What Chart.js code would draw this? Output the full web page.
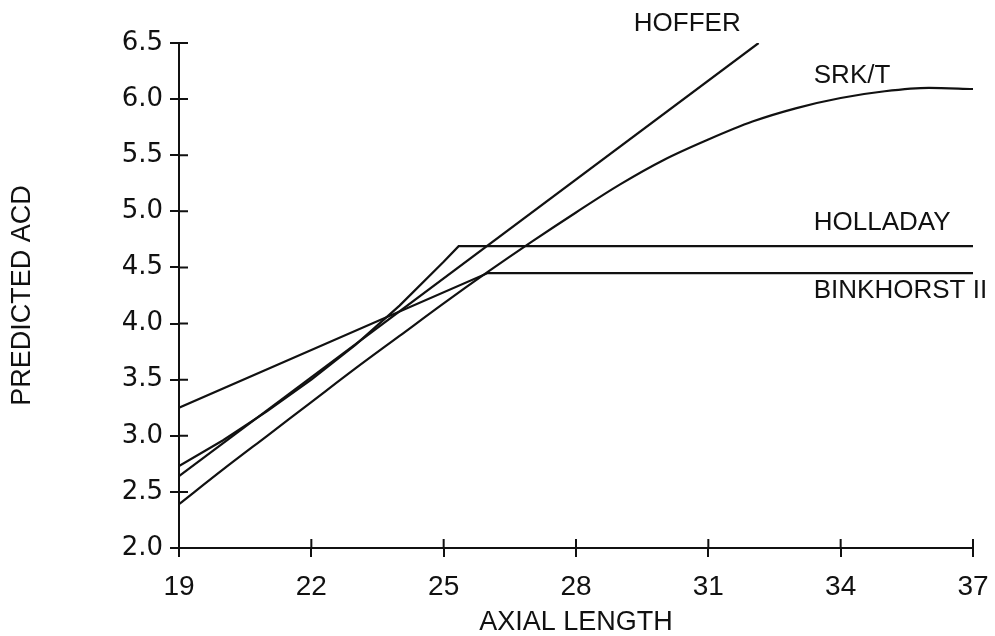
<!DOCTYPE html>
<html>
<head>
<meta charset="utf-8">
<script src="https://cdn.jsdelivr.net/npm/chart.js@4.4.1/dist/chart.umd.min.js"></script>
<style>
  html, body { margin: 0; padding: 0; background: #fff; }
  #wrap { width: 995px; height: 636px; }
</style>
</head>
<body>
<div id="wrap"><canvas id="acd-chart"></canvas></div>
<script>
// ── DATA ─────────────────────────────────────────────────────
const xTicks = [19, 22, 25, 28, 31, 34, 37];
const yTicks = [2.0, 2.5, 3.0, 3.5, 4.0, 4.5, 5.0, 5.5, 6.0, 6.5];

const hofferAL  = [19, 32.14];
const hofferACD = [2.64, 6.5];

const srktAL  = [19, 20, 21, 22, 23, 24, 25, 26, 27, 28, 29, 30, 31, 32, 33, 34, 35, 36, 37];
const srktACD = [2.39, 2.70, 3.00, 3.30, 3.60, 3.89, 4.18, 4.46, 4.73, 4.99, 5.24, 5.46, 5.64, 5.80, 5.92, 6.01, 6.07, 6.10, 6.09];

const holladayAL  = [19, 20, 21, 22, 23, 24, 25, 25.34, 37];
const holladayACD = [2.73, 2.96, 3.22, 3.50, 3.81, 4.16, 4.55, 4.69, 4.69];

const binkhorstAL  = [19, 26, 37];
const binkhorstACD = [3.25, 4.45, 4.45];

const seriesNames = ['HOFFER', 'SRK/T', 'HOLLADAY', 'BINKHORST II'];

// ── HELPERS ──────────────────────────────────────────────────
const pts = (xs, ys) => xs.map((x, i) => ({ x, y: ys[i] }));
const FONT = "'Liberation Sans', Arial, sans-serif";
const WIDE = "'DejaVu Sans', " + FONT;

// where each curve name sits, in axis units (left edge, middle of text)
const nameAnchors = [
  { x: 29.31, y: 6.67 },
  { x: 33.39, y: 6.21 },
  { x: 33.39, y: 4.90 },
  { x: 33.39, y: 4.29 },
];

// ticks that cross the axis line (Chart.js only draws the outer half)
const crossTicks = {
  id: 'crossTicks',
  afterDraw(chart) {
    const { ctx, chartArea, scales: { x, y } } = chart;
    ctx.save();
    ctx.strokeStyle = '#111';
    ctx.lineWidth = 2;
    ctx.beginPath();
    y.ticks.forEach(t => {
      const py = y.getPixelForValue(t.value);
      ctx.moveTo(chartArea.left, py);
      ctx.lineTo(chartArea.left + 9, py);
    });
    x.ticks.forEach(t => {
      const px = x.getPixelForValue(t.value);
      ctx.moveTo(px, chartArea.bottom);
      ctx.lineTo(px, chartArea.bottom - 9);
    });
    ctx.stroke();

    // curve names
    ctx.fillStyle = '#111';
    ctx.font = `26px ${FONT}`;
    ctx.textAlign = 'left';
    ctx.textBaseline = 'middle';
    seriesNames.forEach((name, i) => {
      const a = nameAnchors[i];
      ctx.fillText(name, x.getPixelForValue(a.x), y.getPixelForValue(a.y));
    });
    ctx.restore();
  },
};

const lineStyle = {
  borderColor: '#111',
  borderWidth: 2.2,
  pointRadius: 0,
  fill: false,
};

new Chart(document.getElementById('acd-chart'), {
  type: 'line',
  data: {
    datasets: [
      { label: seriesNames[0], data: pts(hofferAL, hofferACD), ...lineStyle, tension: 0 },
      { label: seriesNames[1], data: pts(srktAL, srktACD), ...lineStyle, cubicInterpolationMode: 'monotone' },
      { label: seriesNames[2], data: pts(holladayAL, holladayACD), ...lineStyle, tension: 0 },
      { label: seriesNames[3], data: pts(binkhorstAL, binkhorstACD), ...lineStyle, tension: 0 },
    ],
  },
  options: {
    responsive: true,
    maintainAspectRatio: false,
    animation: false,
    layout: { padding: { top: 43, right: 22, left: 0, bottom: 0 } },
    plugins: { legend: { display: false }, tooltip: { enabled: false } },
    scales: {
      x: {
        type: 'linear',
        min: 19,
        max: 37,
        afterBuildTicks: (s) => { s.ticks = xTicks.map(v => ({ value: v })); },
        afterFit: (s) => { s.height = 88; s.paddingLeft = 0; s.paddingRight = 0; },
        grid: { drawOnChartArea: false, drawTicks: true, tickLength: 9, color: '#111', lineWidth: 2 },
        border: { display: true, color: '#111', width: 2 },
        ticks: {
          color: '#111',
          padding: 13,
          maxRotation: 0,
          font: { family: FONT, size: 28 },
          callback: (v) => String(v),
        },
        title: {
          display: true,
          text: 'AXIAL LENGTH',
          color: '#111',
          padding: { top: 0, bottom: 0 },
          font: { family: FONT, size: 27, lineHeight: 1.0 },
        },
      },
      y: {
        type: 'linear',
        min: 2,
        max: 6.5,
        afterBuildTicks: (s) => { s.ticks = yTicks.map(v => ({ value: v })); },
        afterFit: (s) => { s.width = 179; s.paddingTop = 0; s.paddingBottom = 0; },
        grid: { drawOnChartArea: false, drawTicks: true, tickLength: 9, color: '#111', lineWidth: 2 },
        border: { display: true, color: '#111', width: 2 },
        ticks: {
          color: '#111',
          padding: 7,
          font: { family: WIDE, size: 26 },
          callback: (v) => Number(v).toFixed(1),
        },
        title: {
          display: true,
          text: 'PREDICTED ACD',
          color: '#111',
          padding: { top: 6, bottom: 0 },
          font: { family: FONT, size: 27 },
        },
      },
    },
  },
  plugins: [crossTicks],
});
</script>
</body>
</html>
